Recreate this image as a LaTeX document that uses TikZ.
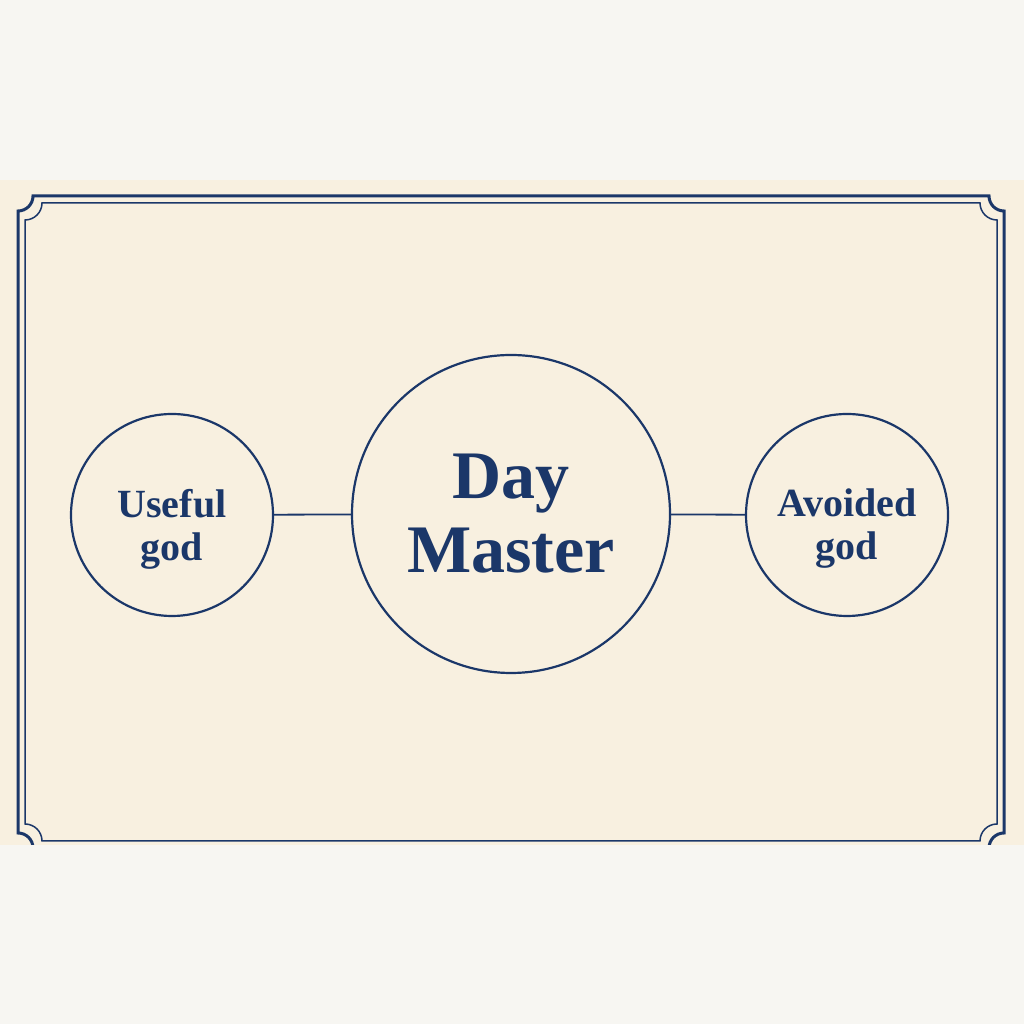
\documentclass[tikz,border=0pt]{standalone}
\usepackage{fontspec}
\setmainfont{Liberation Serif}
\usepackage{tikz}
\definecolor{navy}{HTML}{1B3769}
\definecolor{paper}{HTML}{F8F0E0}
\definecolor{outside}{HTML}{F7F6F2}
\tikzset{
  godcircle/.style={draw=navy, line width=2.2pt, circle, inner sep=0pt, minimum size=202pt},
  bigcircle/.style={godcircle, minimum size=318pt},
  godtext/.style={text=navy, align=center, font=\fontsize{40}{43}\selectfont\bfseries},
  bigtext/.style={text=navy, align=center, font=\fontsize{68}{74}\selectfont\bfseries},
  link/.style={navy, line width=1.8pt}
}
\begin{document}
\begin{tikzpicture}[x=1pt, y=1pt]
        \useasboundingbox (0,0) rectangle (1024,1024);
        \fill[outside] (0,0) rectangle (1024,1024);
        \fill[paper] (0,179) rectangle (1024,844);
        \begin{scope}
        \clip (0,179) rectangle (1024,844);
        \draw[navy, line width=3pt] (33,828) -- (989,828) arc[start angle=180, end angle=270, radius=15]
          -- (1004,191) arc[start angle=90, end angle=180, radius=15]
          -- (33,176) arc[start angle=0, end angle=90, radius=15]
          -- (18,813) arc[start angle=270, end angle=360, radius=15] -- cycle;
        \draw[navy, line width=1.5pt] (42,821) -- (980,821) arc[start angle=180, end angle=270, radius=17]
          -- (997,200) arc[start angle=90, end angle=180, radius=17]
          -- (42,183) arc[start angle=0, end angle=90, radius=17]
          -- (25,804) arc[start angle=270, end angle=360, radius=17] -- cycle;
        \end{scope}
        \node[bigcircle] (master) at (511,510) {};
        \node[godcircle] (useful) at (172,509) {};
        \node[godcircle] (avoided) at (847,509) {};
        \node[bigtext] (mastertext) at (master.center) {Day\\Master};
        \node[godtext] (usefultext) at ([yshift=-14pt]useful.center) {Useful\\god};
        \node[godtext] (avoidedtext) at ([yshift=-14pt]avoided.center) {Avoided\\god};
        \draw[link] (useful) -- (master);
        \draw[link] (master) -- (avoided);
    \end{tikzpicture}
\end{document}
